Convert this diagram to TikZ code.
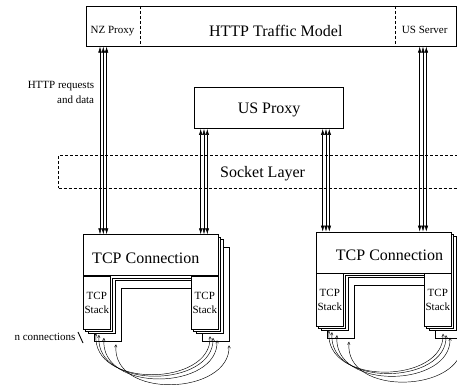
\documentclass[tikz,border=0pt]{standalone}
\usepackage{fontspec}
\setmainfont{Liberation Serif}
\usetikzlibrary{positioning,calc,arrows.meta}

\tikzset{
	box/.style={draw, line width=0.6pt, fill=white, inner sep=0pt},
	big/.style={font=\fontsize{16}{18}\selectfont, inner sep=0pt},
	small/.style={font=\fontsize{11}{13.5}\selectfont, inner sep=0pt},
	pipe/.style={{Latex[length=6pt,width=3.6pt]}-{Latex[length=6pt,width=3.6pt]}, line width=0.5pt},
	link/.style={{Straight Barb[length=2.5pt,width=2.6pt]}-{Straight Barb[length=2.5pt,width=2.6pt]}, line width=0.45pt},
	sep/.style={line width=0.6pt, dash pattern=on 3pt off 2pt},
}

% one TCP connection module: name, x, y of front top left corner, x of title
\newcommand{\tcpmodule}[4]{%
	\foreach \ox/\oy in {11/13,5/5,2.5/2.5}
		\draw[box] ($(#2,#3)+(\ox,\oy)$) -- ++(135,0) -- ++(0,94) -- ++(-27,0) -- ++(0,-53)
			-- ++(-81,0) -- ++(0,53) -- ++(-27,0) -- cycle;
	\node[box, minimum width=135pt, minimum height=41pt, anchor=north west] (#1conn) at (#2,#3) {};
	\node[box, small, align=center, minimum width=27pt, minimum height=53pt, anchor=north west] (#1stackA) at (#1conn.south west) {TCP\\Stack};
	\node[box, small, align=center, minimum width=27pt, minimum height=53pt, anchor=north east] (#1stackB) at (#1conn.south east) {TCP\\Stack};
	\node[big, anchor=base] (#1title) at (#4,#3+29) {TCP Connection};
	\foreach \a/\ay/\b/\by in {13/99/127/102, 16/100.5/130/103.5, 21/103.5/134/106, 33/110/146/111}
		\draw[link] ($(#1conn.north west)+(\a,\ay)$) .. controls +(-5,56) and +(2,50) .. ($(#1conn.north west)+(\b,\by)$);
}

\begin{document}
\begin{tikzpicture}[x=1pt,y=-1pt]
	\useasboundingbox (0,0) rectangle (457,385);
	% traffic model on top
	\node[box, minimum width=370pt, minimum height=40pt, anchor=north west] (httpbox) at (86,6) {};
	\coordinate (sepA) at (140,0);
	\coordinate (sepB) at (395.7,0);
	\draw[sep] (httpbox.north -| sepA) -- (httpbox.south -| sepA);
	\draw[sep] (httpbox.north -| sepB) -- (httpbox.south -| sepB);
	\node[big, anchor=base] (trafficlabel) at (275.8,36.7) {HTTP Traffic Model};
	\node[small, anchor=base] (nzproxy) at (112.5,33.3) {NZ Proxy};
	\node[small, anchor=base] (usserver) at (424.7,33.3) {US Server};

	\node[box, big, text depth=0pt, minimum width=149pt, minimum height=41pt, anchor=north west] (usproxy) at (194.3,87.3) {US Proxy};

	\node[draw, sep, inner sep=0pt, minimum width=408pt, minimum height=33pt, anchor=north west] (socket) at (58.3,155) {};
	\node[big, text depth=0pt] (socketlabel) at (socket.center) {Socket Layer};

	\tcpmodule{L}{83}{234.3}{145.8}
	\tcpmodule{R}{316}{231.7}{389.5}

	% request paths
	\coordinate (pNZ) at (103.3,0);
	\coordinate (pLin) at (204,0);
	\coordinate (pRin) at (326,0);
	\coordinate (pUS) at (423,0);
	\foreach \d in {-3.3,0,3.3} {
		\draw[pipe] ($(httpbox.south -| pNZ)+(\d,0)$) -- ($(Lconn.north -| pNZ)+(\d,0)$);
		\draw[pipe] ($(usproxy.south -| pLin)+(\d,0)$) -- ($(Lconn.north -| pLin)+(\d,0)$);
		\draw[pipe] ($(usproxy.south -| pRin)+(\d,0)$) -- ($(Rconn.north -| pRin)+(\d,0)$);
		\draw[pipe] ($(httpbox.south -| pUS)+(\d,0)$) -- ($(Rconn.north -| pUS)+(\d,0)$);
	}
	\node[small, align=right, font=\fontsize{11}{15.5}\selectfont, anchor=north east] (reqlabel) at (94.3,81) {HTTP requests\\and data};

	\node[small, anchor=base] (nconn) at (45,340) {n connections};
	\draw[line width=0.9pt] (78,332) -- (83,343);
\end{tikzpicture}
\end{document}
